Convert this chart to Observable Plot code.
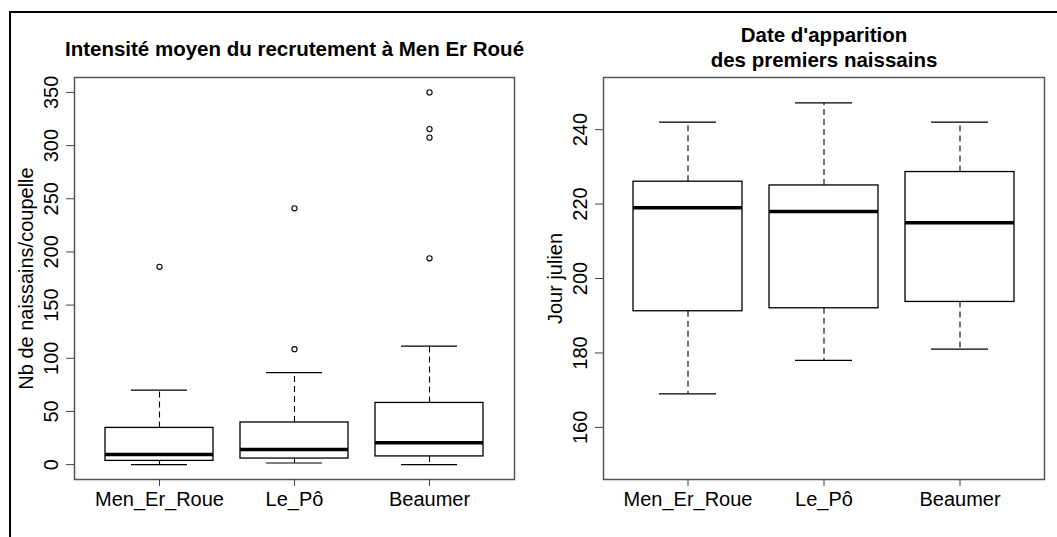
<!DOCTYPE html>
<html><head><meta charset="utf-8">
<script src="https://cdn.jsdelivr.net/npm/d3@7"></script>
<script src="https://cdn.jsdelivr.net/npm/@observablehq/plot@0.6"></script>
<style>
html,body{margin:0;padding:0;background:#fff;overflow:hidden;width:1057px;height:537px}
#wrap{position:relative;width:1057px;height:537px;font-family:"Liberation Sans",Arial,sans-serif}
#border{position:absolute;left:9px;top:11px;width:1200px;height:700px;border-top:2px solid #000;border-left:2px solid #000;z-index:2;pointer-events:none}
.panel{position:absolute;top:0}
</style></head><body>
<div id="wrap"><div id="border"></div><div id="left" class="panel" style="left:0;width:528px;z-index:1"></div><div id="right" class="panel" style="left:528px;width:529px"></div></div>
<script>
const sites = ["Men_Er_Roue", "Le_Pô", "Beaumer"];

// Panel 1: Intensité moyen du recrutement
const recLow  = [0, 1.5, 0];
const recQ1   = [3.5, 5.7, 7.7];
const recMed  = [9.5, 14.2, 20.6];
const recQ3   = [34.5, 39.6, 58];
const recHigh = [70, 86.5, 111.5];
const recOutSite = ["Men_Er_Roue", "Le_Pô", "Le_Pô", "Beaumer", "Beaumer", "Beaumer", "Beaumer"];
const recOutVal  = [186, 108.5, 241, 194, 307.5, 315.5, 350];
const recTicks = [0, 50, 100, 150, 200, 250, 300, 350];
const recTitle = "Intensité moyen du recrutement à Men Er Roué";
const recYLabel = "Nb de naissains/coupelle";

// Panel 2: Date d'apparition des premiers naissains
const dateLow  = [169, 178, 181];
const dateQ1   = [191.2, 192, 193.7];
const dateMed  = [219, 218, 215];
const dateQ3   = [226, 225, 228.6];
const dateHigh = [242, 247.2, 242];
const dateOutSite = [];
const dateOutVal  = [];
const dateTicks = [160, 180, 200, 220, 240];
const dateTitle = "Date d'apparition\ndes premiers naissains";
const dateYLabel = "Jour julien";

function table(lo, q1, med, q3, hi) {
  return sites.map((s, i) => ({site: s, low: lo[i], q1: q1[i], med: med[i], q3: q3[i], high: hi[i]}));
}

function panel({rows, outSite, outVal, ticks, yDomain, title, titleDy, ylabel, width, marginLeft, marginRight}) {
  const outliers = outSite.map((s, i) => ({site: s, value: outVal[i]}));
  return Plot.plot({
    width, height: 537,
    marginLeft, marginRight, marginTop: 77, marginBottom: 58,
    style: {fontFamily: '"Liberation Sans", Arial, sans-serif', fontSize: "20px", color: "#000", background: "transparent", overflow: "visible"},
    x: {type: "band", domain: sites, paddingInner: 0.2, paddingOuter: 0.22},
    y: {domain: yDomain},
    marks: [
      Plot.ruleX(rows, {x: "site", y1: "q3", y2: "high", stroke: "#000", strokeWidth: 1.1, strokeDasharray: "6,4"}),
      Plot.ruleX(rows, {x: "site", y1: "q1", y2: "low", stroke: "#000", strokeWidth: 1.1, strokeDasharray: "6,4"}),
      Plot.barY(rows, {x: "site", y1: "q1", y2: "q3", fill: "#fff", stroke: "#000", strokeWidth: 1.3}),
      Plot.tickY(rows, {x: "site", y: "med", stroke: "#000", strokeWidth: 3.5}),
      Plot.tickY(rows, {x: "site", y: "high", stroke: "#000", strokeWidth: 1.2, insetLeft: 26, insetRight: 26}),
      Plot.tickY(rows, {x: "site", y: "low", stroke: "#000", strokeWidth: 1.2, insetLeft: 26, insetRight: 26}),
      Plot.dot(outliers, {x: "site", y: "value", r: 2.6, stroke: "#000", strokeWidth: 1.1, fill: "none"}),
      Plot.frame({stroke: "#555", strokeWidth: 1.5}),
      Plot.axisY({ticks, tickRotate: -90, tickSize: 8, tickPadding: 15, textAnchor: "middle", lineAnchor: "middle", label: null, stroke: "#444", fontSize: 20}),
      Plot.axisX({tickSize: 7, tickPadding: 5, label: null, stroke: "#444", fontSize: 20}),
      Plot.text([ylabel], {text: d => d, frameAnchor: "left", dx: -48, rotate: -90, textAnchor: "middle", lineAnchor: "middle", fontSize: 20}),
      Plot.text([title], {text: d => d, frameAnchor: "top", dy: titleDy, textAnchor: "middle", lineAnchor: "bottom", lineHeight: 1.2, fontSize: 20.5, fontWeight: "bold"})
    ]
  });
}

document.getElementById("left").appendChild(panel({
  rows: table(recLow, recQ1, recMed, recQ3, recHigh),
  outSite: recOutSite, outVal: recOutVal, ticks: recTicks, yDomain: [-14, 364],
  title: recTitle, titleDy: -22, ylabel: recYLabel,
  width: 528, marginLeft: 74, marginRight: 14
}));
document.getElementById("right").appendChild(panel({
  rows: table(dateLow, dateQ1, dateMed, dateQ3, dateHigh),
  outSite: dateOutSite, outVal: dateOutVal, ticks: dateTicks, yDomain: [146, 254],
  title: dateTitle, titleDy: -11, ylabel: dateYLabel,
  width: 529, marginLeft: 75, marginRight: 13
}));
</script>
</body></html>
